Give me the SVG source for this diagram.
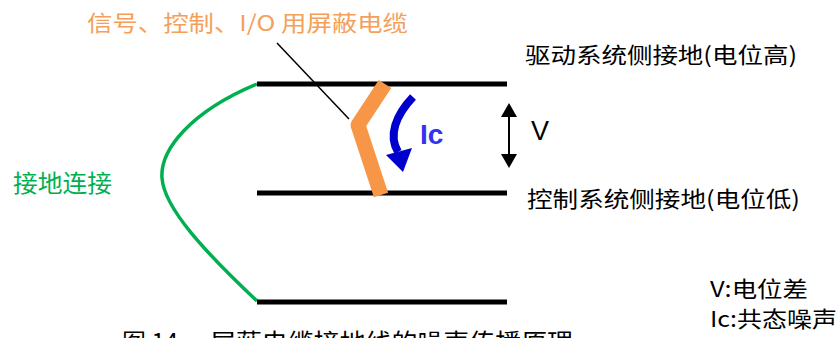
<svg xmlns="http://www.w3.org/2000/svg" width="840" height="338" viewBox="0 0 840 338">
<style>
.cjk{font-family:"Noto Sans CJK SC","Liberation Sans",sans-serif;}
.lbl{font-size:22px;fill:#000;}
.gnd{stroke:#000;stroke-width:5;fill:none;}
</style>
<rect width="840" height="338" fill="#fff"/>
<g id="connectors">
<path d="M257,84 C190,112 160,150 162,178 C164,208 205,252 257,301" fill="none" stroke="#00B050" stroke-width="3.5"/>
<line x1="277" y1="43" x2="349" y2="119" stroke="#000" stroke-width="1.5"/>
</g>
<g id="ground-high"><line class="gnd" x1="257" y1="84" x2="507" y2="84"/></g>
<g id="ground-low"><line class="gnd" x1="257" y1="193" x2="507" y2="193"/></g>
<g id="ground-bottom"><line class="gnd" x1="257" y1="302" x2="507" y2="302"/></g>
<g id="cable">
<polyline points="385,84 358,125 381,195" fill="none" stroke="#F79646" stroke-width="15" stroke-linejoin="round"/>
</g>
<g id="ic-arrow">
<path d="M413,97 C396,115 388,135 398,152" fill="none" stroke="#0000CC" stroke-width="8"/>
<polygon points="386,155 412,148 403,172" fill="#0000CC"/>
<text x="420" y="144" font-family="'Liberation Sans',Arial,sans-serif" font-weight="bold" font-size="28" fill="#3333EE">Ic</text>
</g>
<g id="v-arrow">
<line x1="509" y1="112" x2="509" y2="159" stroke="#000" stroke-width="2"/>
<polygon points="509,103 501,117 517,117" fill="#000"/>
<polygon points="509,168 501,154 517,154" fill="#000"/>
<text x="531" y="140" font-family="'Liberation Sans',Arial,sans-serif" font-size="27" fill="#000">V</text>
</g>
<g id="title"><text class="cjk" x="87" y="31" font-size="22" fill="#F5A05A" textLength="321" lengthAdjust="spacingAndGlyphs">信号、控制、I/O 用屏蔽电缆</text></g>
<g id="label-high"><text class="cjk lbl" x="525" y="63" textLength="272" lengthAdjust="spacingAndGlyphs">驱动系统侧接地(电位高)</text></g>
<g id="label-low"><text class="cjk lbl" x="527" y="207" textLength="273" lengthAdjust="spacingAndGlyphs">控制系统侧接地(电位低)</text></g>
<g id="label-ground"><text class="cjk" x="13" y="192" font-size="24" fill="#00B050" textLength="99" lengthAdjust="spacingAndGlyphs">接地连接</text></g>
<g id="legend">
<text class="cjk lbl" x="710" y="297" textLength="98" lengthAdjust="spacingAndGlyphs">V:电位差</text>
<text class="cjk lbl" x="710" y="327" textLength="127" lengthAdjust="spacingAndGlyphs">Ic:共态噪声</text>
</g>
<g id="caption"><text class="cjk" y="351" font-size="24" fill="#000"><tspan x="122">图 14</tspan><tspan x="210" textLength="363" lengthAdjust="spacingAndGlyphs">屏蔽电缆接地线的噪声传播原理</tspan></text></g>
</svg>
